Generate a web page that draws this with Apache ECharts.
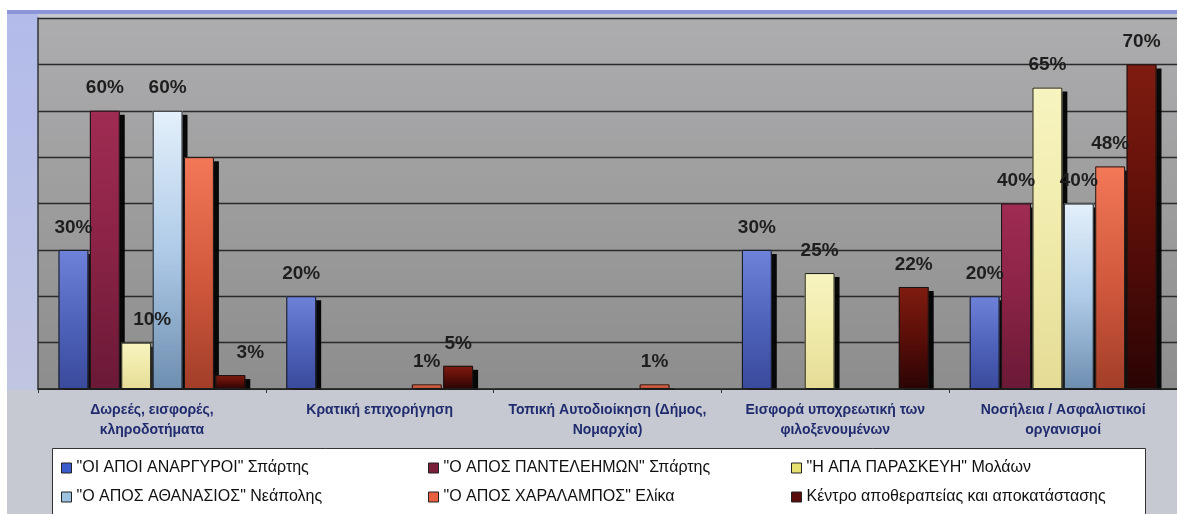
<!DOCTYPE html>
<html>
<head>
<meta charset="utf-8">
<script src="https://cdn.jsdelivr.net/npm/echarts@6/dist/echarts.min.js"></script>
<style>
  html, body { margin: 0; padding: 0; background: #ffffff; width: 1177px; height: 514px; overflow: hidden; }
  #chart { position: absolute; left: 7px; top: 10px; width: 1170px; height: 504px;
           background: #c6c9d2; }
</style>
</head>
<body>
<div id="chart"></div>
<script>
// ---- data ----
const categories = [
  'Δωρεές, εισφορές,\nκληροδοτήματα',
  'Κρατική επιχορήγηση',
  'Τοπική Αυτοδιοίκηση (Δήμος,\nΝομαρχία)',
  'Εισφορά υποχρεωτική των\nφιλοξενουμένων',
  'Νοσήλεια / Ασφαλιστικοί\nοργανισμοί'
];
const seriesNames = [
  '"ΟΙ ΑΠΟΙ ΑΝΑΡΓΥΡΟΙ" Σπάρτης',
  '"Ο ΑΠΟΣ ΠΑΝΤΕΛΕΗΜΩΝ" Σπάρτης',
  '"Η ΑΠΑ ΠΑΡΑΣΚΕΥΗ" Μολάων',
  '"Ο ΑΠΟΣ ΑΘΑΝΑΣΙΟΣ" Νεάπολης',
  '"Ο ΑΠΟΣ ΧΑΡΑΛΑΜΠΟΣ" Ελίκα',
  'Κέντρο αποθεραπείας και αποκατάστασης'
];
const anargyroi   = [30, 20, 0, 30, 20];
const panteleimon = [60, 0, 0, 0, 40];
const paraskevi   = [10, 0, 0, 25, 65];
const athanasios  = [60, 0, 0, 0, 40];
const charalampos = [50, 1, 1, 0, 48];
const kentro      = [3, 5, 0, 22, 70];
const yTicks = [0, 10, 20, 30, 40, 50, 60, 70, 80];

// ---- styles ----
const gradients = [
  ['#6e82da', '#5064bc', '#3a4a9c'],
  ['#a02c52', '#8a2346', '#6a1936'],
  ['#f7f4c0', '#f0eaaa', '#e4dc96'],
  ['#e4f0fb', '#afcbe8', '#6e8eb0'],
  ['#f27858', '#d45a3e', '#a23e28'],
  ['#801c10', '#5a0e08', '#2a0404']
];
const legendColors = ['#3c5ccc', '#7a1f3a', '#e6e070', '#9cc2e2', '#e8603f', '#5a0c0c'];
const allValues = [anargyroi, panteleimon, paraskevi, athanasios, charalampos, kentro];
// label tweaks (series index -> category index -> label override)
const labelTweak = {
  2: { 0: { offset: [16, 0] } },
  4: { 0: { show: false } },
  5: { 0: { offset: [20, 0] } }
};

function grad(c) {
  return { type: 'linear', x: 0, y: 0, x2: 0, y2: 1,
    colorStops: [{ offset: 0, color: c[0] }, { offset: 0.5, color: c[1] }, { offset: 1, color: c[2] }] };
}

const barLayout = { barGap: '5%', barCategoryGap: '18%' };

const mainSeries = allValues.map((vals, si) => Object.assign({
  name: seriesNames[si],
  type: 'bar',
  xAxisIndex: 0,
  z: 2,
  itemStyle: {
    color: grad(gradients[si]),
    borderWidth: 0,
    shadowColor: 'rgba(0,0,0,0.95)',
    shadowOffsetX: 5,
    shadowOffsetY: 4,
    shadowBlur: 0
  },
  label: {
    show: true,
    position: 'top',
    distance: 13,
    fontFamily: 'Liberation Sans, Arial, sans-serif',
    fontWeight: 'bold',
    fontSize: 19,
    color: '#1e1e1e',
    formatter: p => (p.value ? p.value + '%' : '')
  },
  data: vals.map((v, ci) => {
    const item = { value: v === 0 ? null : v };
    if (labelTweak[si] && labelTweak[si][ci]) item.label = labelTweak[si][ci];
    return item;
  })
}, barLayout));

// thin outlines drawn on a twin axis (no shadow)
const outlineSeries = allValues.map((vals, si) => Object.assign({
  name: 'outline' + si,
  type: 'bar',
  xAxisIndex: 1,
  z: 3,
  silent: true,
  itemStyle: { color: 'rgba(0,0,0,0)', borderColor: '#151515', borderWidth: 1 },
  label: { show: false },
  data: vals.map(v => (v === 0 ? null : v))
}, barLayout));

function legendCol(idx, left) {
  return {
    orient: 'vertical',
    left: left,
    top: 445,
    itemGap: 13,
    itemWidth: 10,
    itemHeight: 10,
    icon: 'rect',
    selectedMode: false,
    textStyle: { fontFamily: 'Liberation Sans, Arial, sans-serif', fontSize: 16, color: '#111' },
    data: idx.map(i => ({ name: seriesNames[i], itemStyle: { color: legendColors[i], borderColor: '#222', borderWidth: 1 } }))
  };
}

const chart = echarts.init(document.getElementById('chart'), null, { renderer: 'canvas' });
chart.setOption({
  animation: false,
  backgroundColor: 'transparent',
  grid: {
    left: 31, top: 8, width: 1145, height: 371,
    show: true,
    borderWidth: 0,
    backgroundColor: { type: 'linear', x: 0, y: 0, x2: 0, y2: 1,
      colorStops: [{ offset: 0, color: '#adadaf' }, { offset: 0.5, color: '#9d9d9e' }, { offset: 1, color: '#8d8d8d' }] }
  },
  graphic: [
    { type: 'rect', left: 0, top: 0, z: 0, shape: { width: 31, height: 380 },
      style: { fill: { type: 'linear', x: 0, y: 0, x2: 0, y2: 1,
        colorStops: [{ offset: 0, color: '#b2bbea' }, { offset: 1, color: '#c0c5e0' }] } } },
    { type: 'rect', left: 0, top: 0, z: 0, shape: { width: 1170, height: 4 },
      style: { fill: '#8c95d8' } },
    // frame strip under the baseline so bar shadows stop at the axis
    { type: 'rect', left: 31, top: 380, z: 4, shape: { width: 1145, height: 6 },
      style: { fill: '#c6c9d2' } },
    { type: 'rect', left: 45, top: 438, z: 0, shape: { width: 1093, height: 90 },
      style: { fill: '#ffffff', stroke: '#333', lineWidth: 1 } }
  ],
  legend: [legendCol([0, 3], 49), legendCol([1, 4], 416), legendCol([2, 5], 779)],
  xAxis: [{
    type: 'category',
    data: categories,
    z: 6,
    axisLine: { show: true, lineStyle: { color: '#222', width: 1.5 } },
    axisTick: { show: true, length: 4, lineStyle: { color: '#333' } },
    axisLabel: {
      interval: 0,
      margin: 11,
      fontFamily: 'Liberation Sans, Arial, sans-serif',
      fontWeight: 'bold',
      fontSize: 14,
      lineHeight: 20,
      color: '#1f2b6e'
    }
  }, {
    type: 'category',
    data: categories,
    position: 'bottom',
    show: false
  }],
  yAxis: {
    type: 'value',
    min: yTicks[0],
    max: yTicks[yTicks.length - 1],
    interval: yTicks[1] - yTicks[0],
    axisLabel: { show: false },
    axisTick: { show: false },
    axisLine: { show: true, lineStyle: { color: '#333', width: 1.5 } },
    splitLine: { show: true, lineStyle: { color: '#2a2a2a', width: 1.3 } }
  },
  series: mainSeries.concat(outlineSeries)
});
</script>
</body>
</html>
